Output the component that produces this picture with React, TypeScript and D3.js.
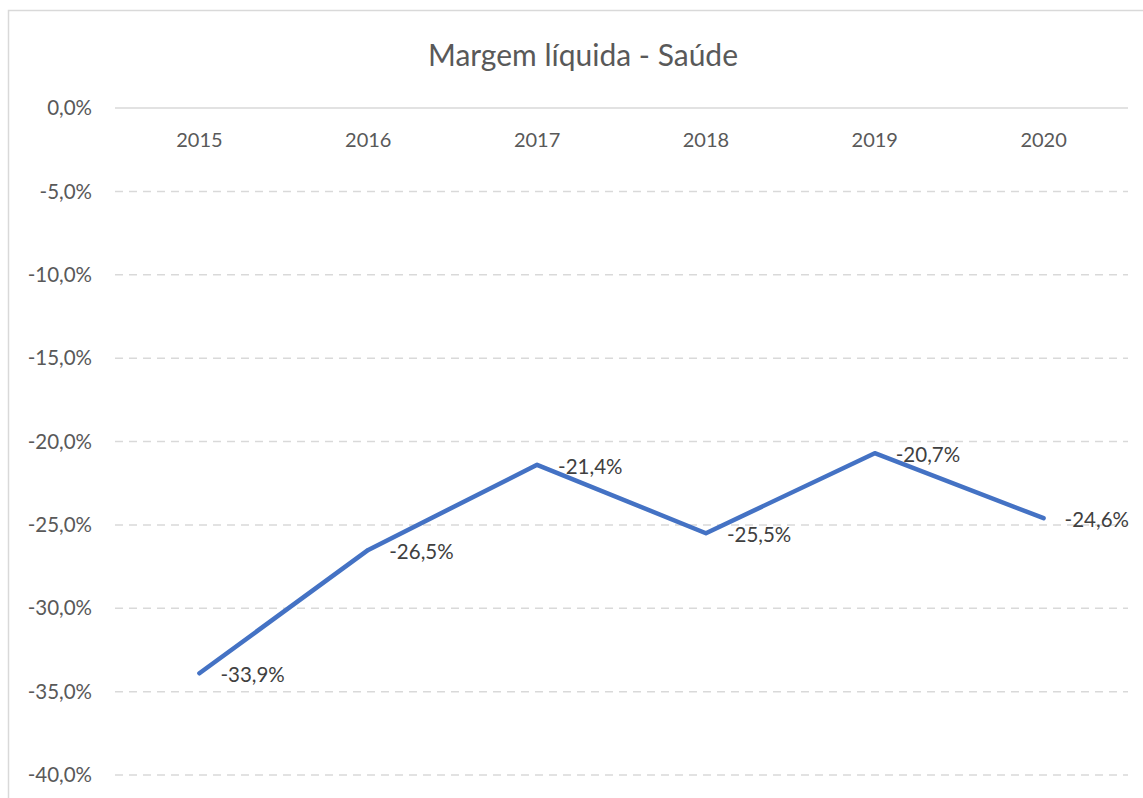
import React from "react";
import * as d3 from "d3";

const years = ["2015", "2016", "2017", "2018", "2019", "2020"];
const values = [-33.9, -26.5, -21.4, -25.5, -20.7, -24.6];
const yTicks = [0, -5, -10, -15, -20, -25, -30, -35, -40];

const W = 1143;
const H = 798;
const FONT = "Lato, 'Open Sans', sans-serif";
const TEXT = "#595959";

const fmt = (v: number) => v.toFixed(1).replace(".", ",") + "%";

export default function App() {
  const x = d3.scaleBand<string>().domain(years).range([115, 1128]);
  const y = d3.scaleLinear().domain([-40, 0]).range([775, 108]);
  const line = d3
    .line<number>()
    .x((_, i) => (x(years[i]) as number) + x.bandwidth() / 2)
    .y((d) => y(d));

  return (
    <svg
      width={W}
      height={H}
      style={{ position: "absolute", left: 0, top: 0, display: "block", background: "#fff" }}
      fontFamily={FONT}
    >
      <rect x={8.5} y={10.5} width={W} height={H} fill="#fff" stroke="#d9d9d9" strokeWidth={1.5} />
      <text x={583} y={55} dy="0.35em" textAnchor="middle" fontSize={30} fill={TEXT}>
        Margem líquida - Saúde
      </text>
      {yTicks.map((t) => (
        <g key={t}>
          <line
            x1={115}
            x2={1128}
            y1={y(t)}
            y2={y(t)}
            stroke="#d9d9d9"
            strokeWidth={1.5}
            strokeDasharray={t === 0 ? undefined : "8,6"}
          />
          <text x={92} y={y(t)} dy="0.35em" textAnchor="end" fontSize={20.5} fill={TEXT}>
            {fmt(t)}
          </text>
        </g>
      ))}
      {years.map((yr) => (
        <text
          key={yr}
          x={(x(yr) as number) + x.bandwidth() / 2}
          y={140}
          dy="0.35em"
          textAnchor="middle"
          fontSize={20}
          fill={TEXT}
        >
          {yr}
        </text>
      ))}
      <path d={line(values) || ""} fill="none" stroke="#4472C4" strokeWidth={4.5} strokeLinejoin="round" strokeLinecap="round" />
      {values.map((v, i) => (
        <text
          key={i}
          x={(x(years[i]) as number) + x.bandwidth() / 2 + 21}
          y={y(v) + 2}
          dy="0.35em"
          textAnchor="start"
          fontSize={20.5}
          fill="#404040"
        >
          {fmt(v)}
        </text>
      ))}
    </svg>
  );
}
